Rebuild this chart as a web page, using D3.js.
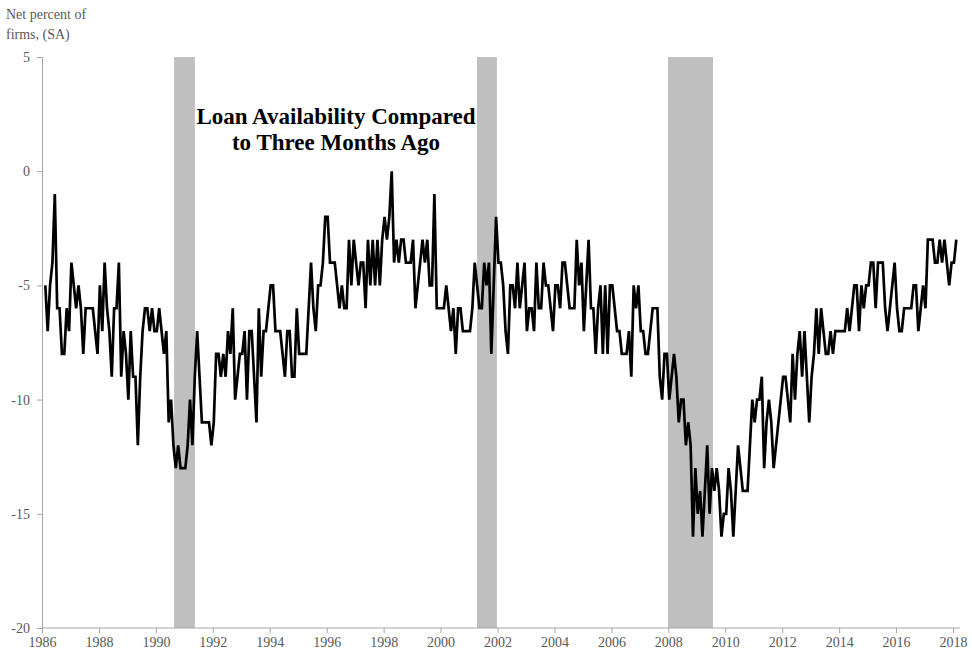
<!DOCTYPE html>
<html>
<head>
<meta charset="utf-8">
<script src="https://cdn.jsdelivr.net/npm/d3@7"></script>
<style>
  html, body { margin: 0; padding: 0; background: #fff; }
  svg { display: block; }
  text { font-family: "Liberation Serif", "Times New Roman", serif; }
</style>
</head>
<body>
<div id="chart"></div>
<script>
// ---- Data ----
const startYear = 1986;               // first monthly observation (Jan 1986)
const values = [
  -5,-7,-5,-4,-1,-6,-6,-8,-8,-6,
  -7,-4,-5,-6,-5,-6,-8,-6,-6,-6,
  -6,-7,-8,-5,-7,-4,-6,-7,-9,-6,
  -6,-4,-9,-7,-8,-10,-7,-9,-9,-12,
  -9,-7,-6,-6,-7,-6,-7,-7,-6,-7,
  -8,-7,-11,-10,-12,-13,-12,-13,-13,-13,
  -12,-10,-12,-9,-7,-9,-11,-11,-11,-11,
  -12,-11,-8,-8,-9,-8,-9,-7,-8,-6,
  -10,-9,-8,-8,-7,-10,-7,-7,-9,-11,
  -6,-9,-7,-7,-6,-5,-5,-7,-7,-7,
  -8,-9,-7,-7,-9,-9,-6,-8,-8,-8,
  -8,-6,-4,-6,-7,-5,-5,-4,-2,-2,
  -4,-4,-4,-5,-6,-5,-6,-6,-3,-5,
  -3,-4,-5,-4,-4,-6,-3,-5,-3,-5,
  -3,-5,-3,-2,-3,-2,0,-4,-3,-4,
  -3,-3,-4,-4,-4,-3,-6,-5,-4,-3,
  -4,-3,-5,-5,-1,-6,-6,-6,-6,-5,
  -6,-7,-6,-8,-6,-6,-7,-7,-7,-7,
  -6,-4,-5,-6,-6,-4,-5,-4,-8,-5,
  -2,-4,-4,-5,-7,-8,-5,-5,-6,-4,
  -6,-5,-4,-7,-6,-6,-7,-4,-6,-6,
  -4,-5,-5,-6,-7,-5,-5,-6,-4,-4,
  -5,-6,-6,-6,-3,-5,-4,-7,-5,-3,
  -6,-6,-8,-6,-5,-8,-5,-8,-5,-5,
  -6,-7,-7,-8,-8,-8,-7,-9,-5,-6,
  -5,-7,-7,-8,-8,-7,-6,-6,-6,-9,
  -10,-8,-8,-10,-9,-8,-9,-11,-10,-10,
  -12,-11,-12,-16,-13,-15,-14,-16,-14,-12,
  -15,-13,-14,-13,-14,-16,-15,-15,-13,-14,
  -16,-14,-12,-13,-14,-14,-14,-12,-10,-11,
  -10,-10,-9,-13,-11,-10,-11,-13,-12,-11,
  -10,-9,-9,-10,-11,-8,-10,-8,-7,-9,
  -7,-9,-11,-9,-8,-6,-8,-6,-7,-8,
  -8,-7,-8,-7,-7,-7,-7,-7,-6,-7,
  -6,-5,-5,-7,-5,-6,-5,-5,-4,-4,
  -6,-4,-4,-4,-6,-7,-6,-5,-4,-6,
  -7,-7,-6,-6,-6,-6,-5,-5,-7,-6,
  -5,-6,-3,-3,-3,-4,-4,-3,-4,-3,
  -4,-5,-4,-4,-3
];
const recessionStart = [1990.64, 2001.28, 2007.99];
const recessionEnd   = [1991.37, 2001.98, 2009.57];
const yTicks = [-20, -15, -10, -5, 0, 5];
const xTickYears = d3.range(1986, 2019, 2);
const titleLines = ["Loan Availability Compared", "to Three Months Ago"];
const yTitleLines = ["Net percent of", "firms, (SA)"];

// ---- Layout ----
const W = 972, H = 655;
const FONT = '"Liberation Serif", "Times New Roman", serif';
const svg = d3.select("#chart").append("svg").attr("width", W).attr("height", H);

const x = d3.scaleLinear().domain([1986, 2018]).range([42, 953]);
const y = d3.scaleLinear().domain([-20, 5]).range([628, 57]);
const monthYear = i => startYear + (i + 1.4) / 12;
const plainFmt = d => String(d);   // hyphen-minus, as in the original

// recession bands
svg.append("g").selectAll("rect")
  .data(recessionStart.map((s, i) => [s, recessionEnd[i]]))
  .join("rect")
  .attr("x", d => x(d[0]))
  .attr("width", d => x(d[1]) - x(d[0]))
  .attr("y", y(5))
  .attr("height", y(-20) - y(5))
  .attr("fill", "#bfbfbf");

// y axis
const yAxis = d3.axisLeft(y).tickValues(yTicks).tickSize(5).tickPadding(7).tickFormat(plainFmt);
const gy = svg.append("g").attr("transform", `translate(${x(1986)},0)`).call(yAxis)
  .attr("font-family", FONT).attr("font-size", 14);
gy.select(".domain").attr("stroke", "#a6a6a6");
gy.selectAll(".tick line").attr("stroke", "#a6a6a6");
gy.selectAll(".tick text").attr("fill", "#595959");

// x axis
const xAxis = d3.axisBottom(x).tickValues(xTickYears).tickSize(5).tickPadding(4).tickFormat(plainFmt);
const gx = svg.append("g").attr("transform", `translate(0,${y(-20)})`).call(xAxis)
  .attr("font-family", FONT).attr("font-size", 14);
gx.select(".domain").attr("stroke", "#a6a6a6").attr("d", `M${x(1986)},0H${x(2018.25)}`);
gx.selectAll(".tick line").attr("stroke", "#a6a6a6");
gx.selectAll(".tick text").attr("fill", "#595959");

// line
const line = d3.line().x((d, i) => x(monthYear(i))).y(d => y(d));
svg.append("path").datum(values)
  .attr("fill", "none").attr("stroke", "#000").attr("stroke-width", 2.7)
  .attr("stroke-linejoin", "miter").attr("d", line);

// title
svg.append("text").attr("x", 336).attr("y", 124).attr("text-anchor", "middle")
  .style("font-size", "23px").style("font-weight", "bold")
  .selectAll("tspan").data(titleLines).join("tspan")
  .attr("x", 336).attr("dy", (d, i) => i === 0 ? 0 : 26).text(d => d);

// y title
svg.append("text").attr("x", 6).attr("y", 19).attr("fill", "#595959")
  .style("font-size", "14px")
  .selectAll("tspan").data(yTitleLines).join("tspan")
  .attr("x", 6).attr("dy", (d, i) => i === 0 ? 0 : 20).text(d => d);
</script>
</body>
</html>
